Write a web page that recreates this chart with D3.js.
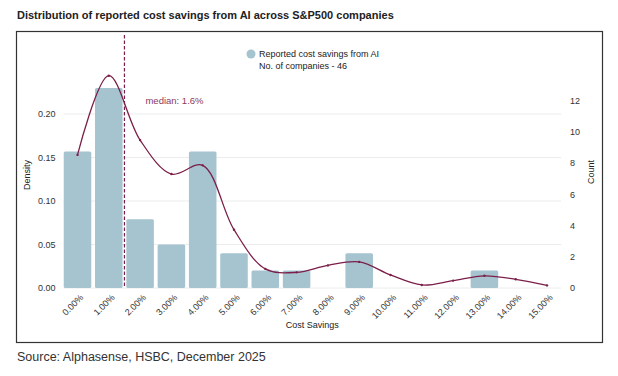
<!DOCTYPE html>
<html>
<head>
<meta charset="utf-8">
<script src="https://cdn.jsdelivr.net/npm/d3@7"></script>
<style>
    body { margin: 0; background: #fff; }
    svg { display: block; font-family: "Liberation Sans", Arial, sans-serif; }
</style>
</head>
<body>
<svg id="chart" width="618" height="376"></svg>
<script>
// bins of cost savings (%), one bar per bin
const savingsBins = [0, 1, 2, 3, 4, 5, 6, 7, 8, 9, 10, 11, 12, 13, 14, 15];
// bar heights on the density axis
const barDensity = [0.157, 0.23, 0.079, 0.05, 0.157, 0.04, 0.02, 0.02, 0, 0.04, 0, 0, 0, 0.02, 0, 0];
// smoothed (kde) line, one point per bin
const kdeDensity = [0.153, 0.244, 0.17, 0.131, 0.141, 0.067, 0.022, 0.018, 0.026, 0.030, 0.015, 0.0035, 0.0085, 0.014, 0.010, 0.003];

const densityTicks = [0, 0.05, 0.10, 0.15, 0.20];
const countTicks = [0, 2, 4, 6, 8, 10, 12];

const medianAt = 1.5;          // where the dashed line sits on the axis
const medianText = 'median: 1.6%';
const legendLines = ['Reported cost savings from AI', 'No. of companies - 46'];

const BAR_COLOR = '#a5c4cf';
const LINE_COLOR = '#7b1e49';

class CostSavingsChart {
    constructor() {
        this.svg = d3.select('#chart');
        this.initScales();
        this.drawFrame();
        this.drawAxes();
        this.drawBars();
        this.drawKde();
        this.drawMedian();
        this.drawLegend();
    }

    initScales() {
        this.x = d3.scaleLinear()
            .domain([0, 15])
            .range([77.5, 547])
        this.yDensity = d3.scaleLinear()
            .domain([0, 0.2])
            .range([288, 114])
        this.yCount = d3.scaleLinear()
            .domain([0, 12])
            .range([288, 100.5])
        this.step = this.x(1) - this.x(0);
    }

    drawFrame() {
        this.svg.append('text')
            .attr('x', 17)
            .attr('y', 19)
            .attr('font-size', 11)
            .attr('font-weight', 'bold')
            .attr('fill', '#222')
            .text('Distribution of reported cost savings from AI across S&P500 companies')

        this.svg.append('rect')
            .attr('x', 16.5)
            .attr('y', 31.5)
            .attr('width', 586)
            .attr('height', 311)
            .attr('fill', 'none')
            .attr('stroke', '#333')
            .attr('stroke-width', 1.2)

        this.svg.append('text')
            .attr('x', 17)
            .attr('y', 361)
            .attr('font-size', 12.5)
            .attr('fill', '#333')
            .text('Source: Alphasense, HSBC, December 2025')
    }

    drawAxes() {
        let left = this.x(-0.45), right = this.x(15.45);

        // grid lines from the density ticks
        this.svg.append('g')
            .selectAll('line')
            .data(densityTicks)
            .join('line')
            .attr('x1', left)
            .attr('x2', right)
            .attr('y1', d => this.yDensity(d))
            .attr('y2', d => this.yDensity(d))
            .attr('stroke', '#ececec')
            .attr('stroke-width', 1)

        let yLeft = d3.axisLeft(this.yDensity)
            .tickValues(densityTicks)
            .tickFormat(d3.format('.2f'))
            .tickSize(0)
            .tickPadding(0)
        let gl = this.svg.append('g')
            .attr('transform', `translate(${left - 8},0)`)
            .call(yLeft)
        gl.select('.domain').remove()
        gl.selectAll('text').attr('font-size', 9).attr('fill', '#333').attr('font-family', null)

        let yRight = d3.axisRight(this.yCount)
            .tickValues(countTicks)
            .tickSize(0)
            .tickPadding(0)
        let gr = this.svg.append('g')
            .attr('transform', `translate(${right + 9},0)`)
            .call(yRight)
        gr.select('.domain').remove()
        gr.selectAll('text').attr('font-size', 9).attr('fill', '#333').attr('font-family', null)

        let xAxis = d3.axisBottom(this.x)
            .tickValues(savingsBins)
            .tickFormat(d => d3.format('.2f')(d) + '%')
            .tickSize(0)
            .tickPadding(0)
        let gx = this.svg.append('g')
            .attr('transform', 'translate(0,288)')
            .call(xAxis)
        gx.select('.domain').remove()
        gx.selectAll('text')
            .attr('font-size', 9)
            .attr('fill', '#333')
            .attr('font-family', null)
            .attr('text-anchor', 'end')
            .attr('y', 0)
            .attr('dy', 0)
            .attr('transform', 'translate(6,10) rotate(-45)')

        this.svg.append('text')
            .attr('transform', 'translate(30,175) rotate(-90)')
            .attr('text-anchor', 'middle')
            .attr('font-size', 9)
            .attr('fill', '#222')
            .text('Density')

        this.svg.append('text')
            .attr('transform', 'translate(594,172) rotate(-90)')
            .attr('text-anchor', 'middle')
            .attr('font-size', 9)
            .attr('fill', '#222')
            .text('Count')

        this.svg.append('text')
            .attr('x', (left + right) / 2)
            .attr('y', 328)
            .attr('text-anchor', 'middle')
            .attr('font-size', 9)
            .attr('fill', '#222')
            .text('Cost Savings')
    }

    drawBars() {
        let w = this.step * 0.88;
        this.svg.append('g')
            .selectAll('rect')
            .data(savingsBins.map((b, i) => ({ bin: b, value: barDensity[i] })).filter(d => d.value > 0))
            .join('rect')
            .attr('x', d => this.x(d.bin) - w / 2)
            .attr('y', d => this.yDensity(d.value))
            .attr('width', w)
            .attr('height', d => this.yDensity(0) - this.yDensity(d.value))
            .attr('rx', 1.5)
            .attr('fill', BAR_COLOR)
    }

    drawKde() {
        let pts = savingsBins.map((b, i) => [b, kdeDensity[i]]);
        let line = d3.line()
            .x(d => this.x(d[0]))
            .y(d => this.yDensity(d[1]))
            .curve(d3.curveCatmullRom.alpha(0.5))

        this.svg.append('path')
            .datum(pts)
            .attr('d', line)
            .attr('fill', 'none')
            .attr('stroke', LINE_COLOR)
            .attr('stroke-width', 1.3)

        this.svg.append('g')
            .selectAll('circle')
            .data(pts)
            .join('circle')
            .attr('cx', d => this.x(d[0]))
            .attr('cy', d => this.yDensity(d[1]))
            .attr('r', 1.2)
            .attr('fill', LINE_COLOR)
    }

    drawMedian() {
        let mx = this.x(medianAt);
        this.svg.append('line')
            .attr('x1', mx)
            .attr('x2', mx)
            .attr('y1', 35)
            .attr('y2', this.yDensity(0))
            .attr('stroke', LINE_COLOR)
            .attr('stroke-width', 1.2)
            .attr('stroke-dasharray', '3.5,2')

        this.svg.append('text')
            .attr('x', mx + 21)
            .attr('y', 104)
            .attr('font-size', 9.5)
            .attr('fill', '#8a3a62')
            .text(medianText)
    }

    drawLegend() {
        this.svg.append('circle')
            .attr('cx', 251)
            .attr('cy', 54)
            .attr('r', 4.5)
            .attr('fill', BAR_COLOR)

        this.svg.append('g')
            .selectAll('text')
            .data(legendLines)
            .join('text')
            .attr('x', 259)
            .attr('y', (d, i) => 57 + i * 12)
            .attr('font-size', 9)
            .attr('fill', '#222')
            .text(d => d)
    }
}

new CostSavingsChart();
</script>
</body>
</html>
